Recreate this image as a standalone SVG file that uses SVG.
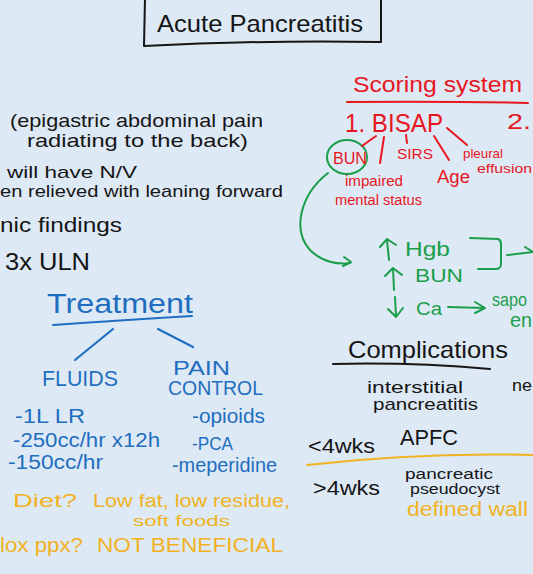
<svg xmlns="http://www.w3.org/2000/svg" width="533" height="574" viewBox="0 0 533 574">
<style>
text{font-family:"Liberation Sans","DejaVu Sans",sans-serif;}
.k{fill:#151515}.r{fill:#e8161e}.g{fill:#1b9e4b}.b{fill:#1f6ec0}.y{fill:#f1b224}
.lk{stroke:#151515;fill:none;stroke-width:2;stroke-linecap:round;stroke-linejoin:round}
.lr{stroke:#e8161e;fill:none;stroke-width:2;stroke-linecap:round;stroke-linejoin:round}
.lg{stroke:#1b9e4b;fill:none;stroke-width:2;stroke-linecap:round;stroke-linejoin:round}
.lb{stroke:#1f6ec0;fill:none;stroke-width:2.2;stroke-linecap:round;stroke-linejoin:round}
.ly{stroke:#f1b224;fill:none;stroke-width:2;stroke-linecap:round;stroke-linejoin:round}
</style>
<rect width="533" height="574" fill="#dde9f5"/>

<g id="title">
<path class="lk" d="M145,-2 L144,46 Q260,40 381,42 L381,-2"/>
<text class="k" x="157" y="32" font-size="24" textLength="206" lengthAdjust="spacingAndGlyphs">Acute Pancreatitis</text>
</g>

<g id="presentation">
<text class="k" x="10" y="127" font-size="19" textLength="253" lengthAdjust="spacingAndGlyphs">(epigastric abdominal pain</text>
<text class="k" x="27" y="147" font-size="19" textLength="221" lengthAdjust="spacingAndGlyphs">radiating to the back)</text>
<text class="k" x="7" y="178" font-size="17" textLength="130" lengthAdjust="spacingAndGlyphs">will have N/V</text>
<text class="k" x="0" y="197" font-size="17" textLength="283" lengthAdjust="spacingAndGlyphs">en relieved with leaning forward</text>
<text class="k" x="0" y="232" font-size="20" textLength="122" lengthAdjust="spacingAndGlyphs">nic findings</text>
<text class="k" x="5" y="270" font-size="24" textLength="85" lengthAdjust="spacingAndGlyphs">3x ULN</text>
</g>

<g id="treatment">
<text class="b" x="47" y="313" font-size="27" textLength="146" lengthAdjust="spacingAndGlyphs">Treatment</text>
<text class="b" x="42" y="386" font-size="22" textLength="76" lengthAdjust="spacingAndGlyphs">FLUIDS</text>
<text class="b" x="173" y="375" font-size="20" textLength="57" lengthAdjust="spacingAndGlyphs">PAIN</text>
<text class="b" x="168" y="395" font-size="20" textLength="95" lengthAdjust="spacingAndGlyphs">CONTROL</text>
<text class="b" x="15" y="423" font-size="20" textLength="70" lengthAdjust="spacingAndGlyphs">-1L LR</text>
<text class="b" x="13" y="447" font-size="20" textLength="147" lengthAdjust="spacingAndGlyphs">-250cc/hr x12h</text>
<text class="b" x="8" y="469" font-size="20" textLength="95" lengthAdjust="spacingAndGlyphs">-150cc/hr</text>
<text class="b" x="192" y="423" font-size="20" textLength="73" lengthAdjust="spacingAndGlyphs">-opioids</text>
<text class="b" x="192" y="450" font-size="18" textLength="41" lengthAdjust="spacingAndGlyphs">-PCA</text>
<text class="b" x="172" y="472" font-size="20" textLength="105" lengthAdjust="spacingAndGlyphs">-meperidine</text>
</g>

<g id="diet">
<text class="y" x="13" y="507" font-size="19" textLength="64" lengthAdjust="spacingAndGlyphs">Diet?</text>
<text class="y" x="93" y="507" font-size="18" textLength="197" lengthAdjust="spacingAndGlyphs">Low fat, low residue,</text>
<text class="y" x="133" y="526" font-size="15" textLength="97" lengthAdjust="spacingAndGlyphs">soft foods</text>
<text class="y" x="0" y="552" font-size="20" textLength="83" lengthAdjust="spacingAndGlyphs">lox ppx?</text>
<text class="y" x="97" y="552" font-size="20" textLength="186" lengthAdjust="spacingAndGlyphs">NOT BENEFICIAL</text>
</g>

<g id="scoring">
<text class="r" x="353" y="92" font-size="22" textLength="169" lengthAdjust="spacingAndGlyphs">Scoring system</text>
<path class="lr" d="M347,102 Q440,101 528,103"/>
<text class="r" x="345" y="132" font-size="25" textLength="98" lengthAdjust="spacingAndGlyphs">1. BISAP</text>
<text class="r" x="507" y="129" font-size="22" textLength="24" lengthAdjust="spacingAndGlyphs">2.</text>
<ellipse cx="347" cy="157" rx="20" ry="17" class="lg"/>
<text class="r" x="333" y="164" font-size="16" textLength="34" lengthAdjust="spacingAndGlyphs">BUN</text>
<text class="r" x="397" y="159" font-size="15" textLength="36" lengthAdjust="spacingAndGlyphs">SIRS</text>
<text class="r" x="463" y="158" font-size="13" textLength="40" lengthAdjust="spacingAndGlyphs">pleural</text>
<text class="r" x="477" y="173" font-size="13" textLength="55" lengthAdjust="spacingAndGlyphs">effusion</text>
<text class="r" x="437" y="183" font-size="18" textLength="33" lengthAdjust="spacingAndGlyphs">Age</text>
<text class="r" x="345" y="186" font-size="14" textLength="58" lengthAdjust="spacingAndGlyphs">impaired</text>
<text class="r" x="335" y="205" font-size="14" textLength="87" lengthAdjust="spacingAndGlyphs">mental status</text>
</g>

<g id="labs">
<text class="g" x="405" y="256" font-size="20" textLength="45" lengthAdjust="spacingAndGlyphs">Hgb</text>
<text class="g" x="415" y="282" font-size="18" textLength="48" lengthAdjust="spacingAndGlyphs">BUN</text>
<text class="g" x="416" y="315" font-size="18" textLength="26" lengthAdjust="spacingAndGlyphs">Ca</text>
<text class="g" x="492" y="306" font-size="18" textLength="35" lengthAdjust="spacingAndGlyphs">sapo</text>
<text class="g" x="510" y="327" font-size="20" textLength="22" lengthAdjust="spacingAndGlyphs">en</text>
</g>

<g id="complications">
<text class="k" x="348" y="358" font-size="24" textLength="160" lengthAdjust="spacingAndGlyphs">Complications</text>
<path class="lk" d="M333,364 Q410,362 490,369"/>
<text class="k" x="367" y="393" font-size="17" textLength="96" lengthAdjust="spacingAndGlyphs">interstitial</text>
<text class="k" x="373" y="410" font-size="17" textLength="105" lengthAdjust="spacingAndGlyphs">pancreatitis</text>
<text class="k" x="512" y="391" font-size="17" textLength="20" lengthAdjust="spacingAndGlyphs">ne</text>
<text class="k" x="308" y="453" font-size="20" textLength="67" lengthAdjust="spacingAndGlyphs">&lt;4wks</text>
<text class="k" x="400" y="445" font-size="22" textLength="58" lengthAdjust="spacingAndGlyphs">APFC</text>
<path class="ly" d="M307,465 Q420,452 533,455"/>
<text class="k" x="313" y="495" font-size="20" textLength="67" lengthAdjust="spacingAndGlyphs">&gt;4wks</text>
<text class="k" x="405" y="479" font-size="14" textLength="88" lengthAdjust="spacingAndGlyphs">pancreatic</text>
<text class="k" x="410" y="494" font-size="14" textLength="90" lengthAdjust="spacingAndGlyphs">pseudocyst</text>
<text class="y" x="407" y="516" font-size="20" textLength="121" lengthAdjust="spacingAndGlyphs">defined wall</text>
</g>

<g id="connectors">
<path class="lb" d="M53,325 Q125,320 192,316"/>
<path class="lb" d="M113,329 L75,360"/>
<path class="lb" d="M158,329 L193,347"/>
<path class="lr" d="M376,136 L362,146"/>
<path class="lr" d="M384,137 L380,163"/>
<path class="lr" d="M406,135 L407,143"/>
<path class="lr" d="M434,136 L449,160"/>
<path class="lr" d="M447,128 L467,145"/>
<path class="lg" d="M328,173 C300,195 292,230 310,250 C322,262 338,265 350,263"/>
<path class="lg" d="M344,257 L351,262 L343,266"/>
<path class="lg" d="M387,240 L389,260 M380,247 L387,239 L396,245"/>
<path class="lg" d="M393,268 L394,290 M385,276 L393,268 L402,275"/>
<path class="lg" d="M395,297 L396,316 M388,309 L396,317 L403,308"/>
<path class="lg" d="M448,307 L484,308 M475,302 L485,308 L475,313"/>
<path class="lg" d="M470,238 L498,239 Q501,240 501,244 L501,265 Q500,269 496,269 L478,269"/>
<path class="lg" d="M507,255 L533,252 M525,247 L533,252"/>
</g>
</svg>
